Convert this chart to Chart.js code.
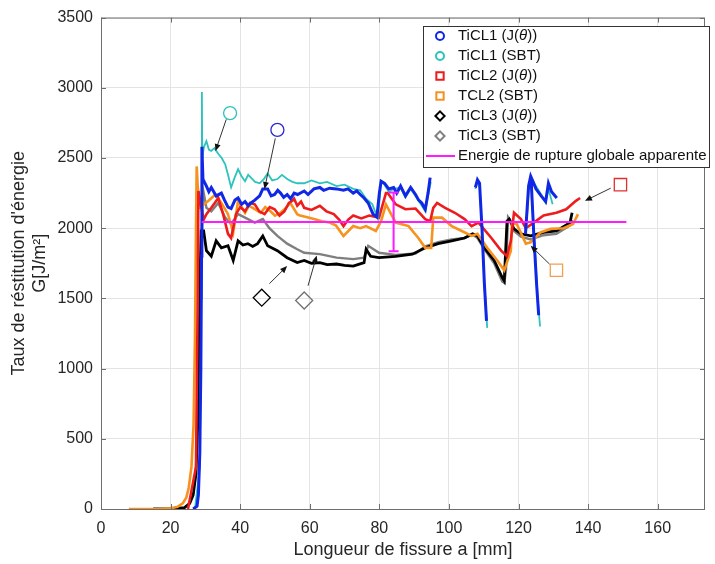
<!DOCTYPE html>
<html>
<head>
<meta charset="utf-8">
<script src="https://cdn.jsdelivr.net/npm/chart.js@4.4.1/dist/chart.umd.min.js"></script>
<style>
  html, body { margin: 0; padding: 0; background: #fff; }
  #wrap { width: 715px; height: 564px; }
</style>
</head>
<body>
<div id="wrap"><canvas id="myChart" width="715" height="564"></canvas></div>
<script>
// tick values
var xTickVals = [0, 20, 40, 60, 80, 100, 120, 140, 160];
var yTickVals = [0, 500, 1000, 1500, 2000, 2500, 3000, 3500];

// TiCL1 J(theta) - blue
var ticl1JX = [26.5, 27.6, 28.0, 28.4, 28.7, 28.9, 29.0, 29.3, 30.3, 31.0, 31.7, 33.1, 34.6, 35.5, 36.5, 37.4, 38.5, 39.4, 40.4, 41.4, 42.3, 43.1, 44.2, 45.6, 46.5, 47.9, 48.9, 49.9, 50.8, 51.6, 52.5, 53.5, 54.5, 55.5, 56.5, 58.4, 59.5, 61.2, 62.9, 64.0, 65.7, 67.7, 69.7, 71.0, 72.5, 73.5, 74.5, 75.6, 76.8, 78.2, 79.3, 80.0, 80.5, 81.5, 82.7, 84.1, 85.0, 86.1, 87.5, 89.0, 90.4, 91.3, 92.2, 93.2, 94.0, 94.6,
  100, 107.6, 108.2, 108.8, 109.5, 110.2, 110.8,
  115, 122.0, 122.9, 123.5, 124.2, 125.0, 126.5, 127.8, 128.6, 129.5, 131.0,
  123, 123.6, 124.4, 125.2, 125.8];
var ticl1JY = [0, 20, 100, 400, 1000, 1800, 2580, 2350, 2300, 2260, 2290, 2230, 2250, 2200, 2150, 2140, 2200, 2215, 2170, 2190, 2160, 2180, 2200, 2230, 2280, 2280, 2230, 2240, 2270, 2250, 2220, 2240, 2210, 2250, 2240, 2265, 2240, 2280, 2290, 2270, 2285, 2280, 2270, 2280, 2250, 2265, 2240, 2215, 2180, 2100, 2080, 2250, 2335, 2320, 2280, 2290, 2250, 2300, 2230, 2290, 2240, 2200, 2180, 2135, 2250, 2360,
  null, 2290, 2345, 2320, 2000, 1600, 1340,
  null, 1960, 2300, 2370, 2330, 2280, 2230, 2190, 2320, 2260, 2215,
  null, 2360, 1950, 1600, 1380];

// TiCL1 SBT - turquoise
var ticl1SX = [27.0, 28.4, 28.8, 29.0, 29.1, 29.6, 30.3, 31.0, 31.7, 32.6, 33.7, 34.7, 35.7, 36.5, 37.4, 38.4, 39.4, 40.4, 41.4, 42.3, 43.1, 44.3, 45.6, 46.8, 47.9, 49.2, 50.7, 52.0, 53.5, 55.0, 56.4, 58.4, 60.5, 62.9, 65.0, 67.7, 70.0, 72.5, 74.5, 76.2, 78.0, 79.6, 80.5, 81.5, 82.7, 84.1, 86.1, 87.5, 89.0, 90.4, 92.2, 93.2, 94.0, 94.8,
  100, 107.6, 108.2, 108.8, 109.5, 110.2, 111.0,
  115, 122.2, 123.0, 123.6, 125.0, 126.5, 127.8, 128.6, 129.8,
  123, 123.6, 124.6, 125.5, 126.2];
var ticl1SY = [0, 300, 1500, 2970, 2500, 2580, 2620, 2560, 2550, 2570, 2530, 2500, 2455, 2380, 2290, 2360, 2420, 2370, 2335, 2380, 2360, 2330, 2320, 2350, 2390, 2340, 2350, 2380, 2350, 2330, 2320, 2320, 2340, 2320, 2330, 2300, 2310, 2280, 2270, 2210, 2170, 2065, 2330, 2310, 2260, 2280, 2290, 2220, 2280, 2230, 2160, 2120, 2230, 2330,
  null, 2280, 2330, 2310, 2000, 1600, 1290,
  null, 1980, 2300, 2360, 2300, 2240, 2180, 2280, 2170,
  null, 2350, 1900, 1500, 1300];

// TiCL2 J(theta) - red
var ticl2JX = [25.0, 27.3, 27.8, 28.0, 29.5, 30.3, 31.7, 32.7, 33.7, 35.1, 36.5, 37.4, 38.8, 40.0, 41.4, 42.8, 44.2, 45.5, 47.0, 48.5, 49.9, 51.3, 52.7, 54.0, 55.0, 55.5, 56.4, 57.5, 58.4, 60.5, 62.9, 64.8, 66.9, 68.5, 69.7, 71.0, 72.5, 74.8, 77.1, 79.9, 81.9, 82.4, 84.7, 87.5, 90.4, 93.2, 94.6, 95.5, 96.6, 98.9, 101.7, 104.5, 106.5, 108.5, 112.2, 115.0, 116.7, 117.8, 118.7, 120.7, 122.1, 124.4, 127.2, 130.9, 133.7, 136.5, 137.7];
var ticl2JY = [0, 300, 1500, 2265, 2060, 2100, 2145, 2180, 2215, 2100, 1960, 1930, 2100, 2150, 2120, 2180, 2170, 2120, 2100, 2150, 2135, 2090, 2120, 2180, 2195, 2210, 2160, 2190, 2145, 2130, 2160, 2120, 2100, 2060, 2015, 2060, 2090, 2070, 2090, 2075, 2250, 2250, 2170, 2135, 2140, 2065, 2050, 2145, 2180, 2145, 2110, 2065, 2015, 2040, 1930, 1840, 1800, 1910, 2110, 2065, 2000, 2040, 2090, 2110, 2135, 2195, 2215];

// TCL2 SBT - orange
var ticl2SX = [8, 12, 16, 20, 22, 23.5, 24.5, 25.2, 26.0, 26.6, 27.0, 27.3, 27.5, 27.8, 28.4, 29.5, 30.9, 32.9, 34.6, 36.5, 38.0, 39.4, 41.4, 42.5, 43.6, 45.9, 47.2, 48.7, 50.0, 51.6, 53.0, 54.4, 56.4, 57.2, 59.0, 61.2, 63.5, 65.7, 67.5, 69.7, 72.5, 74.5, 76.2, 79.0, 80.5, 81.9, 84.7, 88.4, 91.2, 93.2, 94.9, 95.5, 98.0, 100.8, 103.7, 106.5, 108.2, 111.0, 113.9, 115.9, 117.8, 118.1, 119.5, 122.1, 123.5, 126.3, 129.2, 132.9, 135.7, 137.1];
var ticl2SY = [0, 0, 0, 5, 15, 40, 80, 150, 300, 600, 1200, 2000, 2440, 2300, 2150, 2170, 2195, 2240, 2180, 2100, 1970, 2195, 2110, 2160, 2145, 2110, 2150, 2120, 2090, 2110, 2140, 2180, 2100, 2090, 2080, 2065, 2050, 2040, 2020, 1945, 2015, 2000, 2015, 1980, 2050, 2170, 2040, 2015, 1930, 1860, 1860, 2075, 2075, 2015, 1980, 1945, 1960, 1860, 1770, 1700, 1840, 2030, 2030, 1890, 1900, 1970, 1995, 2000, 2030, 2100];

// TiCL3 J(theta) - black
var ticl3JX = [15, 20, 24, 25.5, 26.5, 27.3, 27.8, 28.2, 28.5, 28.8, 29.5, 30.3, 31.7, 33.1, 34.6, 36.5, 38.0, 39.4, 40.8, 42.2, 43.6, 45.0, 46.5, 47.9, 50.7, 53.5, 56.4, 58.4, 60.5, 62.9, 65.0, 67.7, 70.0, 72.5, 75.6, 76.2, 77.5, 79.9, 84.7, 89.5, 93.2, 96.9, 100.8, 104.5, 106.8, 108.2, 110.2, 113.0, 115.3, 115.9, 116.7, 117.3, 118.7, 120.7, 123.5, 127.2, 130.9, 134.8, 135.4];
var ticl3JY = [0, 0, 10, 40, 100, 250, 600, 1200, 1700, 1980, 1980, 1840, 1800, 1910, 1860, 1875, 1770, 1910, 1880, 1890, 1870, 1890, 1945, 1875, 1840, 1790, 1755, 1770, 1750, 1755, 1740, 1745, 1735, 1730, 1755, 1850, 1800, 1790, 1800, 1815, 1860, 1890, 1910, 1930, 1960, 1945, 1860, 1770, 1650, 1625, 2050, 2065, 1995, 1960, 1945, 1970, 1980, 2040, 2110];

// TiCL3 SBT - grey
var ticl3SX = [28.5, 29.3, 30.3, 31.7, 33.7, 35.7, 37.4, 39.4, 41.4, 44.2, 46.5, 48.4, 50.7, 53.5, 56.4, 58.4, 62.9, 67.7, 72.5, 75.6, 76.8, 79.9, 84.7, 90.4, 93.2, 96.9, 100.8, 104.5, 106.8, 108.2, 110.2, 113.0, 115.3, 115.9, 116.4, 117.0, 117.6, 118.7, 120.7, 123.5, 127.2, 130.9, 134.8, 135.4];
var ticl3SY = [1500, 2280, 2145, 2120, 2180, 2075, 2030, 2100, 2075, 2040, 2065, 2000, 1945, 1890, 1850, 1825, 1815, 1790, 1780, 1790, 1875, 1825, 1810, 1820, 1870, 1900, 1920, 1930, 1955, 1930, 1850, 1750, 1620, 1610, 1700, 2080, 2060, 1980, 1940, 1920, 1950, 1960, 2020, 2060];

// apparent global fracture energy + scatter bar
var energyX = [28.9, 151];
var energyY = [2045, 2045];
var barX = [84.1, 84.1];
var barY = [2255, 1835];

// callout symbols and arrows
var calloutX = [37.1, 50.7, 149.3, 130.9, 46.2, 58.4];
var calloutY = [2820, 2700, 2310, 1700, 1505, 1485];
var arrowFromX = [36.0, 50.1, 146.5, 128.9, 48.4, 59.5];
var arrowFromY = [2775, 2640, 2285, 1745, 1605, 1590];
var arrowToX = [32.9, 47.0, 139.1, 123.5, 53.5, 62.0];
var arrowToY = [2550, 2280, 2195, 1875, 1730, 1805];

var seriesNames = ["TiCL1 (J(θ))", "TiCL1 (SBT)", "TiCL2 (J(θ))", "TCL2 (SBT)", "TiCL3 (J(θ))", "TiCL3 (SBT)", "Energie de rupture globale apparente"];
var seriesColors = ["#1027e6", "#2cc3bd", "#ee1c1c", "#f7921e", "#000000", "#7f7f7f", "#ff1aff"];
var seriesMarkers = ["circle", "circle", "rect", "rect", "rectRot", "rectRot", "line"];

function pts(xs, ys) {
  return xs.map(function (x, i) { return { x: x, y: ys[i] }; });
}

var FONT = "'Liberation Sans', Arial, Helvetica, sans-serif";
Chart.defaults.font.family = FONT;
Chart.defaults.color = "#262626";

function lineSet(xs, ys, color, w) {
  return {
    data: pts(xs, ys),
    showLine: true,
    borderColor: color,
    backgroundColor: color,
    borderWidth: w,
    pointRadius: 0,
    tension: 0,
    spanGaps: false
  };
}

var datasets = [
  lineSet(energyX, energyY, seriesColors[6], 2),
  {
    data: pts(barX, barY), showLine: true, borderColor: seriesColors[6], borderWidth: 2,
    pointStyle: "line", pointRadius: 5, pointBorderWidth: 2, pointBorderColor: seriesColors[6]
  },
  lineSet(ticl1JX, ticl1JY, seriesColors[0], 3),
  lineSet(ticl1SX, ticl1SY, seriesColors[1], 1.8),
  lineSet(ticl2JX, ticl2JY, seriesColors[2], 2.6),
  lineSet(ticl2SX, ticl2SY, seriesColors[3], 2.6),
  lineSet(ticl3JX, ticl3JY, seriesColors[4], 2.8),
  lineSet(ticl3SX, ticl3SY, seriesColors[5], 2.4)
];

// callout symbols: cyan circle, blue circle, red square, orange square, black diamond, grey diamond
var calloutColors = ["#2cc3bd", "#2a2ad0", "#e23030", "#f0a050", "#000000", "#707070"];
var calloutStyles = ["circle", "circle", "rect", "rect", "rectRot", "rectRot"];
var calloutRadius = [6.5, 6.5, 8.7, 8.7, 8.5, 8.5];
calloutX.forEach(function (x, i) {
  datasets.push({
    data: [{ x: x, y: calloutY[i] }],
    showLine: false,
    pointStyle: calloutStyles[i],
    pointRadius: calloutRadius[i],
    pointBorderWidth: 1.3,
    pointBorderColor: calloutColors[i],
    pointBackgroundColor: "rgba(0,0,0,0)",
    clip: false
  });
});

var decor = {
  id: "decor",
  afterDatasetsDraw: function (chart) {
    var ctx = chart.ctx;
    var xs = chart.scales.x, ys = chart.scales.y;
    var a = chart.chartArea;
    ctx.save();
    // arrows
    ctx.strokeStyle = "#333";
    ctx.fillStyle = "#111";
    ctx.lineWidth = 1;
    for (var i = 0; i < arrowFromX.length; i++) {
      var x1 = xs.getPixelForValue(arrowFromX[i]), y1 = ys.getPixelForValue(arrowFromY[i]);
      var x2 = xs.getPixelForValue(arrowToX[i]), y2 = ys.getPixelForValue(arrowToY[i]);
      var ang = Math.atan2(y2 - y1, x2 - x1);
      ctx.beginPath();
      ctx.moveTo(x1, y1);
      ctx.lineTo(x2 - 5 * Math.cos(ang), y2 - 5 * Math.sin(ang));
      ctx.stroke();
      ctx.beginPath();
      ctx.moveTo(x2, y2);
      ctx.lineTo(x2 - 7 * Math.cos(ang) + 3 * Math.sin(ang), y2 - 7 * Math.sin(ang) - 3 * Math.cos(ang));
      ctx.lineTo(x2 - 7 * Math.cos(ang) - 3 * Math.sin(ang), y2 - 7 * Math.sin(ang) + 3 * Math.cos(ang));
      ctx.closePath();
      ctx.fill();
    }
    // box + inward ticks
    ctx.strokeStyle = "#6e6e6e";
    ctx.lineWidth = 1;
    ctx.strokeRect(a.left + 0.5, a.top + 0.5, a.right - a.left - 1, a.bottom - a.top);
    ctx.beginPath();
    xTickVals.forEach(function (v) {
      var p = Math.round(xs.getPixelForValue(v)) + 0.5;
      ctx.moveTo(p, a.bottom); ctx.lineTo(p, a.bottom - 5);
      ctx.moveTo(p, a.top); ctx.lineTo(p, a.top + 5);
    });
    yTickVals.forEach(function (v) {
      var p = Math.round(ys.getPixelForValue(v)) + 0.5;
      ctx.moveTo(a.left, p); ctx.lineTo(a.left + 5, p);
      ctx.moveTo(a.right, p); ctx.lineTo(a.right - 5, p);
    });
    ctx.stroke();

    // legend
    var bx = 423, by = 26, bw = 286, bh = 141;
    ctx.fillStyle = "#fff";
    ctx.fillRect(bx, by, bw, bh);
    ctx.strokeStyle = "#333";
    ctx.strokeRect(bx + 0.5, by + 0.5, bw, bh);
    ctx.textBaseline = "middle";
    ctx.textAlign = "left";
    var legRadius = [4, 4, 5.2, 5.2, 4.6, 4.6];
    seriesNames.forEach(function (name, i) {
      var ry = 36 + i * 20;
      ctx.strokeStyle = seriesColors[i];
      ctx.lineWidth = 2;
      if (seriesMarkers[i] === "line") {
        ctx.beginPath(); ctx.moveTo(426, ry); ctx.lineTo(455, ry); ctx.stroke();
      } else {
        ctx.fillStyle = "#fff";
        Chart.helpers.drawPoint(ctx, {
          pointStyle: seriesMarkers[i], radius: legRadius[i], rotation: 0, borderWidth: 2
        }, 440, ry);
      }
      ctx.fillStyle = "#111";
      var parts = name.split("θ");
      var tx = 458;
      parts.forEach(function (p, k) {
        ctx.font = "15px " + FONT;
        ctx.fillText(p, tx, ry);
        tx += ctx.measureText(p).width;
        if (k < parts.length - 1) {
          ctx.font = "italic 15px " + FONT;
          ctx.fillText("θ", tx, ry);
          tx += ctx.measureText("θ").width;
        }
      });
    });
    ctx.restore();
  }
};

var ctx = document.getElementById("myChart");
var myChart = new Chart(ctx, {
  type: "scatter",
  data: { datasets: datasets },
  options: {
    responsive: false,
    animation: false,
    devicePixelRatio: 1,
    layout: { padding: { top: 16, right: 1, left: 0, bottom: 0 } },
    plugins: { legend: { display: false }, tooltip: { enabled: false } },
    scales: {
      x: {
        type: "linear",
        min: 0,
        max: 173.6,
        afterBuildTicks: function (s) { s.ticks = xTickVals.map(function (v) { return { value: v }; }); },
        afterFit: function (s) { s.height = 55; },
        grid: { color: "#e4e4e4", drawTicks: false },
        border: { display: false },
        ticks: { font: { size: 16 }, padding: 10, color: "#262626", maxRotation: 0, callback: function (v) { return String(v); } },
        title: { display: true, text: "Longueur de fissure a [mm]", font: { size: 18 }, color: "#262626", padding: { top: 0, bottom: 3 } }
      },
      y: {
        type: "linear",
        min: 0,
        max: 3500,
        afterBuildTicks: function (s) { s.ticks = yTickVals.map(function (v) { return { value: v }; }); },
        afterFit: function (s) { s.width = 101; },
        grid: { color: "#e4e4e4", drawTicks: false },
        border: { display: false },
        ticks: { font: { size: 16 }, padding: 8, color: "#262626", callback: function (v) { return String(v); } },
        title: { display: true, text: ["Taux de réstitution d'énergie", "G[J/m²]"], font: { size: 18 }, color: "#262626", padding: { top: 8, bottom: 0 } }
      }
    }
  },
  plugins: [decor]
});
</script>
</body>
</html>
